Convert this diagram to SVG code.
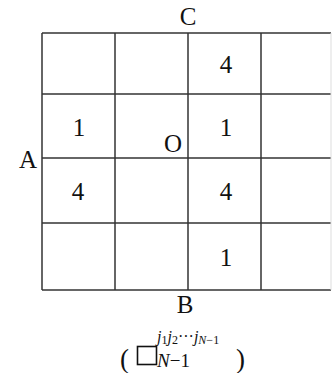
<svg xmlns="http://www.w3.org/2000/svg" width="332" height="373" viewBox="0 0 332 373">
<style>
.g{stroke:#333;stroke-width:1.5;fill:none}
.f{stroke:#ddd;stroke-width:1}
text{font-family:'Liberation Serif','Times New Roman',serif;fill:#111}
.t{font-size:25px;text-anchor:middle}
</style>
<rect width="332" height="373" fill="#fff"/>
<g id="grid">
<line class="g" x1="42" y1="33" x2="331" y2="33"/>
<line class="g" x1="42" y1="94" x2="331" y2="94"/>
<line class="g" x1="42" y1="158" x2="331" y2="158"/>
<line class="g" x1="42" y1="223" x2="331" y2="223"/>
<line class="g" x1="42" y1="290" x2="331" y2="290"/>
<line class="g" x1="42" y1="33" x2="42" y2="290"/>
<line class="g" x1="115" y1="33" x2="115" y2="290"/>
<line class="g" x1="188" y1="33" x2="188" y2="290"/>
<line class="g" x1="261" y1="33" x2="261" y2="290"/>
<line class="f" x1="331" y1="33" x2="331" y2="290"/>
</g>
<g id="labels">
<text class="t" x="188" y="25">C</text>
<text class="t" x="28" y="168">A</text>
<text class="t" x="185" y="313">B</text>
<text class="t" x="173" y="152">O</text>
</g>
<g id="cells">
<text class="t" x="226" y="73">4</text>
<text class="t" x="79" y="136">1</text>
<text class="t" x="226" y="136">1</text>
<text class="t" x="78" y="200">4</text>
<text class="t" x="226" y="200">4</text>
<text class="t" x="226" y="266">1</text>
</g>
<g id="formula">
<text x="120" y="368" font-size="27">(</text>
<rect x="137.5" y="346.5" width="19" height="18" fill="none" stroke="#111" stroke-width="1.6"/>
<text x="157" y="367" font-size="19"><tspan font-style="italic">N</tspan>−1</text>
<text x="157" y="342" font-size="16"><tspan font-style="italic">j</tspan><tspan font-size="12" dy="2">1</tspan><tspan font-style="italic" dy="-2">j</tspan><tspan font-size="12" dy="2">2</tspan><tspan dy="-2">···</tspan><tspan font-style="italic">j</tspan><tspan font-size="12" font-style="italic" dy="2">N</tspan><tspan font-size="12">−1</tspan></text>
<text x="236" y="368" font-size="27">)</text>
</g>
</svg>
